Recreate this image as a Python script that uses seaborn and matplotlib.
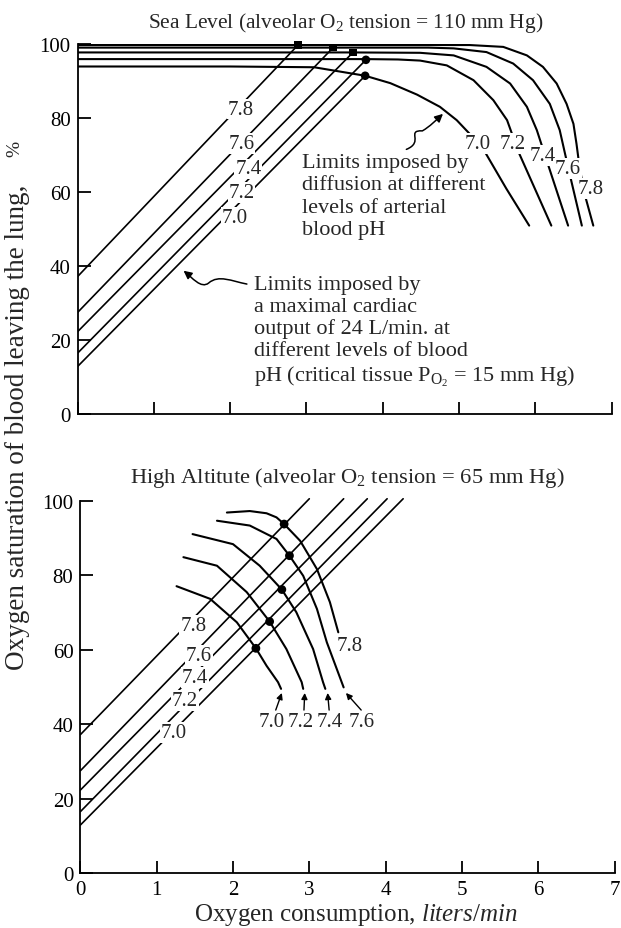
import numpy as np
import pandas as pd
import matplotlib
matplotlib.use("Agg")
import matplotlib.pyplot as plt
import seaborn as sns
from matplotlib.path import Path
from matplotlib.patches import FancyArrowPatch

# ---------------- data ----------------
ph_levels = ["7.0", "7.2", "7.4", "7.6", "7.8"]

# cardiac-output limit lines: intercept at x = 0
co_start_y = [12.9, 16.5, 22.3, 27.5, 37.2]
# sea level: lines end at the plateau intersection
sea_co_end_x = [3.77, 3.78, 3.61, 3.35, 2.89]
sea_co_end_y = [91.5, 95.8, 97.8, 99.1, 99.8]
# high altitude: lines run to the top of the chart
alt_co_end_x = [4.23, 4.02, 3.76, 3.45, 3.00]
alt_co_end_y = [100.6, 100.6, 100.6, 100.6, 100.6]

# sea level diffusion-limit curves
sea_x_70 = [0, 2.0, 3.1, 3.77, 4.10, 4.45, 4.75, 4.97, 5.14, 5.34, 5.62, 5.92]
sea_y_70 = [94.0, 94.0, 93.8, 91.5, 89.5, 86.4, 83.1, 79.5, 75.8, 70.9, 61.0, 51.0]
sea_x_72 = [0, 3.78, 4.20, 4.49, 4.84, 5.19, 5.45, 5.63, 5.78, 6.21]
sea_y_72 = [96.0, 96.0, 95.9, 95.6, 94.3, 90.3, 84.9, 79.5, 70.9, 51.0]
sea_x_74 = [0, 3.61, 4.49, 4.93, 5.36, 5.67, 5.89, 6.02, 6.17, 6.43]
sea_y_74 = [97.8, 97.8, 97.7, 97.0, 93.9, 89.4, 83.1, 76.8, 67.3, 51.0]
sea_x_76 = [0, 3.35, 4.60, 4.93, 5.36, 5.71, 5.97, 6.19, 6.32, 6.39, 6.46, 6.61]
sea_y_76 = [99.1, 99.1, 99.1, 98.9, 97.9, 94.8, 90.3, 83.9, 76.8, 70.4, 64.1, 51.0]
sea_x_78 = [0, 2.89, 5.14, 5.58, 5.89, 6.10, 6.28, 6.41, 6.50, 6.54, 6.58, 6.64, 6.76]
sea_y_78 = [99.8, 99.8, 99.8, 99.3, 97.0, 93.9, 89.4, 83.9, 78.5, 73.1, 66.8, 60.0, 51.0]

# sea level intersection markers
sea_dot_x = [3.77, 3.78, 3.61, 3.35, 2.89]
sea_dot_y = [91.5, 95.8, 97.8, 99.1, 99.8]

# high altitude diffusion-limit arcs
alt_x_70 = [1.26, 1.70, 2.05, 2.30, 2.44, 2.59, 2.63]
alt_y_70 = [77.1, 73.7, 67.4, 60.4, 55.7, 51.3, 49.5]
alt_x_72 = [1.35, 1.79, 2.18, 2.48, 2.70, 2.90, 2.92]
alt_y_72 = [84.9, 82.6, 75.5, 67.6, 60.2, 51.3, 49.5]
alt_x_74 = [1.47, 2.00, 2.35, 2.64, 2.83, 3.05, 3.18, 3.21]
alt_y_74 = [91.1, 88.4, 82.6, 76.2, 70.1, 60.2, 51.3, 49.5]
alt_x_76 = [1.79, 2.22, 2.57, 2.74, 2.92, 3.10, 3.23, 3.45]
alt_y_76 = [94.7, 93.4, 89.8, 85.3, 79.9, 71.0, 62.0, 49.9]
alt_x_78 = [1.92, 2.22, 2.44, 2.57, 2.67, 2.88, 3.10, 3.27, 3.38]
alt_y_78 = [96.9, 97.3, 96.7, 95.6, 93.8, 89.3, 81.7, 72.8, 64.7]

alt_dot_x = [2.30, 2.48, 2.64, 2.74, 2.67]
alt_dot_y = [60.4, 67.6, 76.2, 85.3, 93.8]

x_ticks = [0, 1, 2, 3, 4, 5, 6, 7]
y_ticks = [0, 20, 40, 60, 80, 100]

# label positions (data coordinates)
sea_line_lab_x = [2.06, 2.15, 2.24, 2.15, 2.14]
sea_line_lab_y = [53.2, 60.0, 66.3, 73.1, 82.5]
sea_curve_lab_x = [5.25, 5.71, 6.10, 6.43, 6.73]
sea_curve_lab_y = [73.1, 73.1, 70.0, 66.4, 61.0]
alt_line_lab_x = [1.22, 1.37, 1.50, 1.55, 1.48]
alt_line_lab_y = [37.8, 46.3, 52.6, 58.4, 66.5]
alt_arc_lab_x = [2.51, 2.89, 3.27, 3.69]
alt_arc_lab_y = [40.6, 40.6, 40.6, 40.6]
alt_arrow_tail_x = [2.56, 2.93, 3.26, 3.68]
alt_arrow_head_x = [2.64, 2.94, 3.24, 3.48]

# ---------------- style ----------------
sns.set_theme(style="ticks")
plt.rcParams["font.family"] = ["Liberation Serif", "DejaVu Serif"]
plt.rcParams["mathtext.fontset"] = "custom"
plt.rcParams["mathtext.rm"] = "Liberation Serif"
plt.rcParams["mathtext.it"] = "Liberation Serif:italic"

W, H = 621, 929
fig = plt.figure(figsize=(W / 100, H / 100), dpi=100)

XMAX, YMAX = 7.05, 101.0
ax1 = fig.add_axes([77.5 / W, (H - 415.3) / H, 76.3 * XMAX / W, 3.70 * YMAX / H])
ax2 = fig.add_axes([80.4 / W, (H - 874) / H, 76.3 * XMAX / W, 3.72 * YMAX / H])

LW_CURVE = 1.5
LW_LINE = 1.2
TICK_FS = 15
LAB_FS = 15
TXT_FS = 16


def style_axes(ax, show_xlabels):
    ax.set_xlim(0, XMAX)
    ax.set_ylim(0, YMAX)
    for s in ["top", "right"]:
        ax.spines[s].set_visible(False)
    for s in ["left", "bottom"]:
        ax.spines[s].set_linewidth(1.3)
        ax.spines[s].set_color("black")
    ax.spines["left"].set_bounds(0, 100)
    ax.spines["bottom"].set_bounds(0, 7)
    ax.set_xticks(x_ticks)
    ax.set_yticks(y_ticks)
    ax.set_yticklabels([str(v) for v in y_ticks])
    if show_xlabels:
        ax.set_xticklabels([str(v) for v in x_ticks])
    else:
        ax.set_xticklabels([])
    ax.tick_params(axis="both", direction="in", length=9, width=1.3,
                   colors="black", labelsize=TICK_FS, pad=5)
    ax.set_xlabel("")
    ax.set_ylabel("")
    ax.set_facecolor("white")


def draw(ax, xs, ys, lw):
    df = pd.DataFrame({"x": xs, "y": ys})
    sns.lineplot(data=df, x="x", y="y", ax=ax, color="black", lw=lw,
                 sort=False, estimator=None, zorder=2)


def label(ax, x, y, s):
    ax.text(x, y, s, ha="center", va="center", fontsize=LAB_FS, zorder=4,
            bbox=dict(facecolor="white", edgecolor="none", pad=0.6))


def squiggle(ax, pts):
    codes = [Path.MOVETO] + [Path.CURVE4] * (len(pts) - 1)
    p = Path(pts, codes)
    arr = FancyArrowPatch(path=p, arrowstyle="-|>", mutation_scale=12,
                          color="black", lw=1.1, zorder=5)
    arr.set_transform(ax.transData)
    ax.add_patch(arr)


# ---------------- top panel ----------------
sea_curves_x = [sea_x_70, sea_x_72, sea_x_74, sea_x_76, sea_x_78]
sea_curves_y = [sea_y_70, sea_y_72, sea_y_74, sea_y_76, sea_y_78]
for i in range(5):
    draw(ax1, sea_curves_x[i], sea_curves_y[i], LW_CURVE)
    draw(ax1, [0, sea_co_end_x[i]], [co_start_y[i], sea_co_end_y[i]], LW_LINE)

sns.scatterplot(x=sea_dot_x[:2], y=sea_dot_y[:2], ax=ax1, color="black",
                s=38, marker="o", edgecolor="none", zorder=6)
sns.scatterplot(x=sea_dot_x[2:], y=sea_dot_y[2:], ax=ax1, color="black",
                s=30, marker="s", edgecolor="none", zorder=6)

for i in range(5):
    label(ax1, sea_line_lab_x[i], sea_line_lab_y[i], ph_levels[i])
    label(ax1, sea_curve_lab_x[i], sea_curve_lab_y[i], ph_levels[i])

ax1.text(2.94, 70.6,
         "Limits imposed by\ndiffusion at different\nlevels of arterial\nblood pH",
         ha="left", va="top", fontsize=TXT_FS, linespacing=1.24, zorder=4)
ax1.text(2.31, 37.7,
         "Limits imposed by\na maximal cardiac\noutput of 24 L/min. at\n"
         "different levels of blood\npH (critical tissue P$_{\\mathrm{O}_2}$ = 15 mm Hg)",
         ha="left", va="top", fontsize=TXT_FS, linespacing=1.2, zorder=4)

squiggle(ax1, [(4.31, 71.6), (4.55, 73.6), (4.30, 76.8), (4.52, 76.6),
               (4.62, 77.8), (4.70, 79.5), (4.79, 81.2)])
squiggle(ax1, [(2.22, 35.2), (2.02, 36.0), (1.85, 37.8), (1.72, 35.5),
               (1.62, 33.8), (1.50, 37.0), (1.39, 38.8)])

# ---------------- bottom panel ----------------
alt_curves_x = [alt_x_70, alt_x_72, alt_x_74, alt_x_76, alt_x_78]
alt_curves_y = [alt_y_70, alt_y_72, alt_y_74, alt_y_76, alt_y_78]
for i in range(5):
    draw(ax2, alt_curves_x[i], alt_curves_y[i], LW_CURVE)
    draw(ax2, [0, alt_co_end_x[i]], [co_start_y[i], alt_co_end_y[i]], LW_LINE)

sns.scatterplot(x=alt_dot_x, y=alt_dot_y, ax=ax2, color="black", s=40,
                marker="o", edgecolor="none", zorder=6)

for i in range(5):
    label(ax2, alt_line_lab_x[i], alt_line_lab_y[i], ph_levels[i])
label(ax2, 3.53, 61.1, ph_levels[4])
for i in range(4):
    ax2.text(alt_arc_lab_x[i], alt_arc_lab_y[i], ph_levels[i], ha="center",
             va="center", fontsize=LAB_FS, zorder=4)
    ax2.annotate("", xy=(alt_arrow_head_x[i], 48.4),
                 xytext=(alt_arrow_tail_x[i], 43.8),
                 arrowprops=dict(arrowstyle="-|>", color="black", lw=1.0,
                                 mutation_scale=9, shrinkA=0, shrinkB=0))

style_axes(ax1, False)
style_axes(ax2, True)

# ---------------- titles & axis labels ----------------
fig.text(345.5 / W, 1 - 23 / H,
         "Sea Level (alveolar O$_2$ tension = 110 mm Hg)",
         ha="center", va="center", fontsize=15.4)
fig.text(347 / W, 1 - 478 / H,
         "High Altitute (alveolar O$_2$ tension = 65 mm Hg)",
         ha="center", va="center", fontsize=16.2)
fig.text(18 / W, 1 - 427 / H,
         "Oxygen saturation of blood leaving the lung,",
         ha="center", va="center", rotation=90, fontsize=19.5)
fig.text(15 / W, 1 - 149 / H, "%", ha="center", va="center",
         rotation=90, fontsize=14)
fig.text(356 / W, 1 - 921 / H,
         "Oxygen consumption, $\\mathit{liters/min}$",
         ha="center", va="baseline", fontsize=18)

fig.savefig("out.png", dpi=100, facecolor="white")
